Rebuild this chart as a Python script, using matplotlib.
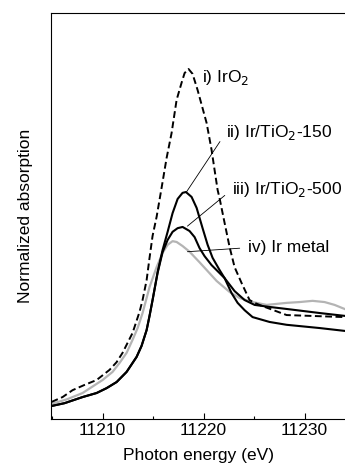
import matplotlib
matplotlib.use('Agg')
from matplotlib import pyplot as plt
from matplotlib.ticker import MultipleLocator

plt.rcParams['font.family'] = ['Liberation Sans', 'DejaVu Sans']

# i) IrO2 (dashed)
e_iro2 = [11204.95, 11206.04, 11207.03, 11208.22, 11209.41, 11210.69, 11211.39, 11211.98,
          11212.97, 11213.66, 11213.96, 11214.36, 11214.65, 11214.95, 11215.35, 11215.84,
          11216.34, 11216.83, 11217.33, 11217.82, 11218.12, 11218.51, 11218.91, 11219.41,
          11220.30, 11220.79, 11221.09, 11221.39, 11221.58, 11222.08, 11222.57, 11223.07,
          11223.76, 11224.55, 11225.05, 11225.84, 11228.22, 11233.96]
a_iro2 = [0.042, 0.054, 0.071, 0.084, 0.096, 0.121, 0.140, 0.163,
          0.212, 0.264, 0.293, 0.342, 0.397, 0.451, 0.498, 0.569,
          0.643, 0.704, 0.786, 0.828, 0.852, 0.862, 0.850, 0.810,
          0.729, 0.663, 0.613, 0.564, 0.544, 0.483, 0.424, 0.374,
          0.335, 0.293, 0.286, 0.278, 0.256, 0.251]

# ii) Ir/TiO2-150
e_150 = [11204.95, 11206.24, 11208.02, 11209.41, 11210.40, 11211.39, 11212.38, 11213.37,
         11213.86, 11214.36, 11214.65, 11214.95, 11215.45, 11215.94, 11216.44, 11216.93,
         11217.43, 11217.92, 11218.25, 11218.81, 11219.31, 11219.90, 11220.40, 11220.89,
         11221.58, 11222.08, 11222.77, 11223.37, 11224.06, 11224.85, 11226.53, 11228.22,
         11231.49, 11233.96]
a_150 = [0.032, 0.039, 0.054, 0.064, 0.076, 0.091, 0.116, 0.153,
         0.180, 0.219, 0.254, 0.293, 0.362, 0.416, 0.461, 0.507,
         0.542, 0.557, 0.559, 0.547, 0.520, 0.470, 0.429, 0.397,
         0.367, 0.347, 0.310, 0.286, 0.268, 0.251, 0.239, 0.232,
         0.224, 0.217]

# iii) Ir/TiO2-500
e_500 = [11204.95, 11206.24, 11208.02, 11209.41, 11210.40, 11211.39, 11212.38, 11213.37,
         11213.86, 11214.36, 11214.65, 11214.95, 11215.45, 11215.94, 11216.44, 11216.93,
         11217.43, 11217.92, 11218.61, 11219.11, 11219.60, 11220.10, 11220.79, 11222.08,
         11223.07, 11224.06, 11225.05, 11226.53, 11228.22, 11231.49, 11233.96]
a_500 = [0.032, 0.039, 0.054, 0.064, 0.076, 0.091, 0.116, 0.153,
         0.180, 0.219, 0.254, 0.293, 0.360, 0.411, 0.441, 0.461,
         0.470, 0.473, 0.463, 0.448, 0.421, 0.401, 0.379, 0.347,
         0.315, 0.293, 0.281, 0.276, 0.271, 0.261, 0.254]

# iv) Ir metal
e_met = [11204.95, 11206.53, 11208.02, 11210.00, 11210.99, 11211.68, 11212.38, 11212.97,
         11213.47, 11213.96, 11214.65, 11215.35, 11215.94, 11216.44, 11216.93, 11217.33,
         11217.92, 11218.61, 11219.60, 11220.30, 11221.29, 11222.57, 11223.56, 11224.85,
         11226.24, 11228.22, 11229.50, 11230.79, 11231.98, 11232.97, 11233.96]
a_met = [0.037, 0.049, 0.064, 0.096, 0.116, 0.138, 0.163, 0.195,
         0.224, 0.261, 0.325, 0.374, 0.409, 0.429, 0.438, 0.436,
         0.426, 0.412, 0.386, 0.367, 0.340, 0.313, 0.298, 0.288,
         0.281, 0.286, 0.288, 0.291, 0.288, 0.281, 0.271]

fig = plt.figure(figsize=(3.45, 4.72), dpi=100)
ax = fig.add_axes([0.148, 0.1123, 0.852, 0.8602])

ax.plot(e_met, a_met, color='#b4b4b4', lw=1.6)
ax.plot(e_500, a_500, color='black', lw=1.5)
ax.plot(e_150, a_150, color='black', lw=1.5)
ax.plot(e_iro2, a_iro2, color='black', lw=1.4, dashes=(3.5, 1.8))

ax.set_xlim(11204.9, 11234.0)
ax.set_ylim(0, 1)
ax.xaxis.set_major_locator(MultipleLocator(10))
ax.xaxis.set_minor_locator(MultipleLocator(5))
ax.tick_params(axis='x', which='major', direction='in', length=4.3, width=0.8,
               labelsize=12.5, pad=3)
ax.tick_params(axis='x', which='minor', direction='in', length=2, width=0.8)
ax.set_yticks([])
ax.spines['right'].set_visible(False)
for s in ['left', 'top', 'bottom']:
    ax.spines[s].set_linewidth(0.8)

ax.set_xlabel('Photon energy (eV)', fontsize=12.5, labelpad=7)
ax.set_ylabel('Normalized absorption', fontsize=12.5, labelpad=13)

# labels with leader lines
leader = dict(arrowstyle='-', lw=0.6, color='black', shrinkA=4, shrinkB=0,
              relpos=(0, 0.5))
ax.text(11219.8, 0.840, 'i) IrO$_2$', fontsize=12.5, va='center')
ax.annotate('ii) Ir/TiO$_2$-150', xy=(11218.3, 0.559), xytext=(11222.2, 0.705),
            fontsize=12.5, va='center', arrowprops=leader)
ax.annotate('iii) Ir/TiO$_2$-500', xy=(11218.4, 0.475), xytext=(11222.8, 0.565),
            fontsize=12.5, va='center', arrowprops=leader)
ax.annotate('iv) Ir metal', xy=(11218.4, 0.412), xytext=(11224.4, 0.422),
            fontsize=12.5, va='center', arrowprops=leader)

fig.savefig('out.png', dpi=100)
